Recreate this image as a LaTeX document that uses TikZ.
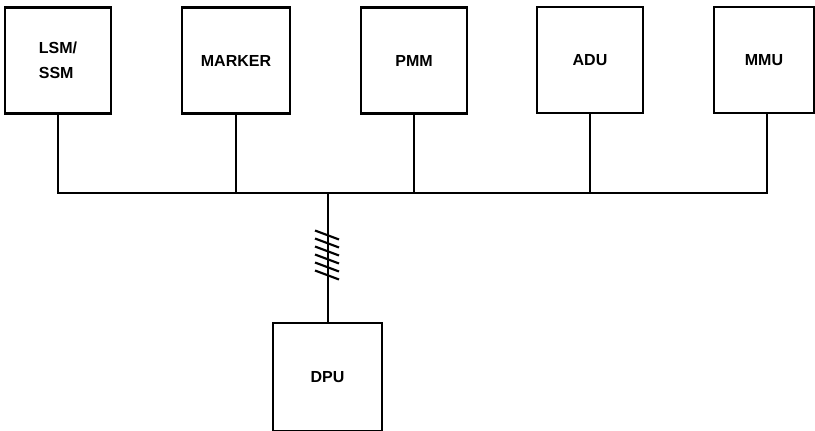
\documentclass[tikz,border=0pt]{standalone}
\usepackage{fontspec}
\setmainfont{Liberation Sans}
\begin{document}
\begin{tikzpicture}[x=0.75pt,y=-0.75pt,
  unit/.style={draw=black,line width=1.6pt,minimum width=#1*0.75pt,minimum height=106*0.75pt,inner sep=0pt,font=\bfseries\fontsize{12}{18.8}\selectfont,align=left},
  wire/.style={line width=1.6pt},
  hatch/.style={line width=1.6pt}]
\useasboundingbox (0,0) rectangle (815,431);
\node[unit=106] (lsm) at (58,60.5) {LSM/\\SSM};
\node[unit=108] (marker) at (236,60.5) {MARKER};
\node[unit=106] (pmm) at (414,60.5) {PMM};
\node[unit=106] (adu) at (590,60) {ADU};
\node[unit=100] (mmu) at (764,60) {MMU};
\node[unit=109,minimum height=108*0.75pt] (dpu) at (327.5,377) {DPU};
\coordinate (busL) at (59,193);
\coordinate (busR) at (767,193);
\coordinate (tap) at (328,193);
\coordinate (hc) at (327,255);
\draw[wire] (lsm.south) -- (lsm.south |- busL) -- (busR) -- (mmu.south -| busR);
\draw[wire] (marker.south) -- (marker.south |- busL);
\draw[wire] (pmm.south) -- (pmm.south |- busL);
\draw[wire] (adu.south) -- (adu.south |- busL);
\draw[wire] (tap) -- (tap |- dpu.north);
\foreach \d in {-20,-12,-4,4,12,20}
  \draw[hatch] ([shift={(-12,\d-4.5)}]hc) -- ([shift={(12,\d+4.5)}]hc);
\end{tikzpicture}
\end{document}
